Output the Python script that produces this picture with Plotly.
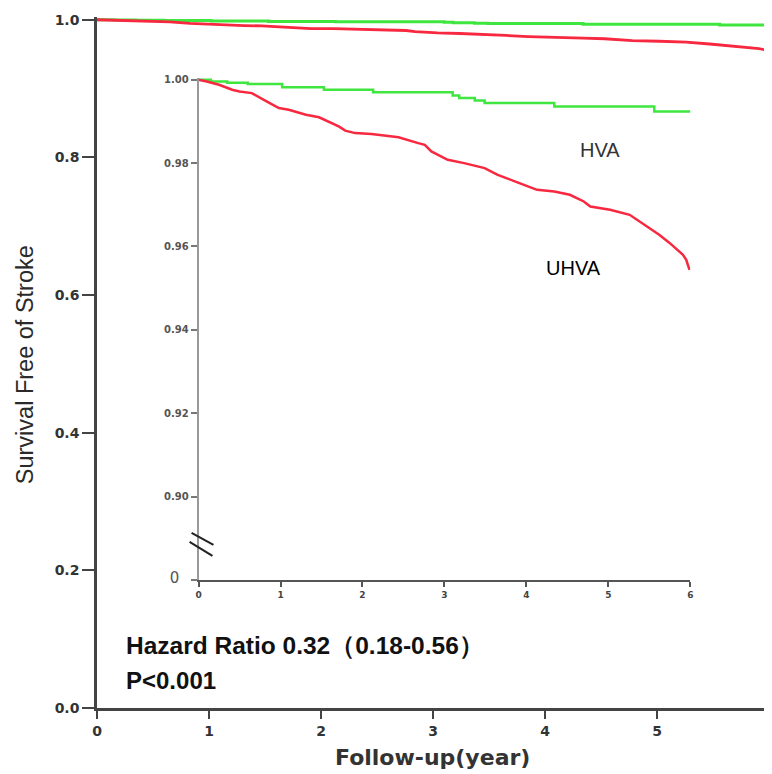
import plotly.graph_objects as go

# ---------------- data ----------------
year_ticks = [0, 1, 2, 3, 4, 5, 6]
main_y_ticks = [0.0, 0.2, 0.4, 0.6, 0.8, 1.0]
main_y_ticktext = ["0.0", "0.2", "0.4", "0.6", "0.8", "1.0"]
inset_y_ticks = [0.88, 0.90, 0.92, 0.94, 0.96, 0.98, 1.00]
inset_y_ticktext = ["0", "0.90", "0.92", "0.94", "0.96", "0.98", "1.00"]

hva_time = [0, 0.15, 0.35, 0.6, 1.02, 1.53, 2.13, 3.10, 3.18, 3.37, 3.49, 4.34, 5.56, 6.0]
hva_surv = [1.0, 0.9996, 0.9993, 0.9990, 0.9982, 0.9976, 0.9970, 0.9962, 0.9956, 0.9950,
            0.9944, 0.9936, 0.9924, 0.9924]

uhva_time = [0, 0.1, 0.25, 0.41, 0.5, 0.65, 0.83, 0.98, 1.10, 1.31, 1.47, 1.71, 1.79, 1.91,
             2.11, 2.44, 2.68, 2.76, 2.84, 3.04, 3.24, 3.49, 3.65, 3.85, 3.97, 4.13, 4.34,
             4.53, 4.70, 4.78, 5.02, 5.26, 5.47, 5.62, 5.75, 5.91, 5.95, 5.99]
uhva_surv = [1.0, 0.9996, 0.9988, 0.9976, 0.9972, 0.9968, 0.9948, 0.9932, 0.9928, 0.9916,
             0.9910, 0.9888, 0.9878, 0.9872, 0.9870, 0.9862, 0.9848, 0.9844, 0.9828, 0.9808,
             0.9800, 0.9788, 0.9772, 0.9756, 0.9748, 0.9736, 0.9732, 0.9724, 0.9708, 0.9696,
             0.9688, 0.9676, 0.9648, 0.9628, 0.9608, 0.9580, 0.9568, 0.9544]

# ---------------- geometry (screen pixels; page body has an 8px margin) ----------------
OFF = 8
W, H = 772 - OFF, 774 - OFF
SX0, SX1 = 97, 772      # screen x of main plot left/right edges
SY0, SY1 = 708, 20      # screen y of main 0.0 and 1.0
YTOP = 1.004
L = SX0 - OFF
R = W - (SX1 - OFF)
B = H - (SY0 - OFF)
T = (SY1 - OFF) - (YTOP - 1.0) * (SY0 - SY1)
PW, PH = W - L - R, H - B - T


def px(xs):
    return (xs - OFF - L) / PW


def py(ys):
    return (H - B - (ys - OFF)) / PH


GREEN = "#3fe63f"
RED = "#f7283f"

fig = go.Figure()

# main curves
fig.add_trace(go.Scatter(x=hva_time, y=hva_surv, mode="lines", line=dict(color=GREEN, width=3, shape="hv"),
                         xaxis="x", yaxis="y", showlegend=False, hoverinfo="skip"))
fig.add_trace(go.Scatter(x=uhva_time, y=uhva_surv, mode="lines", line=dict(color=RED, width=2.8),
                         xaxis="x", yaxis="y", showlegend=False, hoverinfo="skip"))
# inset curves
fig.add_trace(go.Scatter(x=hva_time, y=hva_surv, mode="lines", line=dict(color=GREEN, width=2.5, shape="hv"),
                         xaxis="x2", yaxis="y2", showlegend=False, hoverinfo="skip"))
fig.add_trace(go.Scatter(x=uhva_time, y=uhva_surv, mode="lines", line=dict(color=RED, width=2.5),
                         xaxis="x2", yaxis="y2", showlegend=False, hoverinfo="skip"))

main_tickfont = dict(family="DejaVu Sans", size=14, color="#333", weight="bold")
inset_tickfont = dict(family="DejaVu Sans", size=10, color="#555")

fig.update_layout(
    width=W, height=H,
    margin=dict(l=L, r=R, t=T, b=B, pad=0),
    paper_bgcolor="white", plot_bgcolor="white",
    showlegend=False,
    xaxis=dict(domain=[0, 1], range=[0, 6], tickvals=year_ticks, ticks="outside", ticklen=8,
               tickwidth=2, tickcolor="#444", showline=True, linecolor="#444", linewidth=2.5,
               showgrid=False, zeroline=False, tickfont=main_tickfont, anchor="y"),
    yaxis=dict(domain=[0, 1], range=[0, YTOP], tickvals=main_y_ticks, ticktext=main_y_ticktext,
               ticks="outside", ticklen=12, tickwidth=2, tickcolor="#444", showline=True,
               linecolor="#444", linewidth=2.5, showgrid=False, zeroline=False,
               tickfont=main_tickfont, anchor="x"),
    xaxis2=dict(domain=[px(199), px(693)], range=[0, 6], tickvals=year_ticks, ticks="outside",
                ticklen=5, tickwidth=1.5, tickcolor="#555", showline=True, linecolor="#555",
                linewidth=2, showgrid=False, zeroline=False,
                tickfont=dict(family="DejaVu Sans", size=9, color="#444", weight="bold"), anchor="y2"),
    yaxis2=dict(domain=[py(580), py(77.9)], range=[0.88, 1.0005], tickvals=inset_y_ticks,
                ticktext=["<span style='font-size:15px'>0&nbsp;&nbsp;</span>"]
                         + ["<b>%s</b>" % t for t in inset_y_ticktext[1:]],
                ticks="outside", ticklen=6, tickwidth=1.5, tickcolor="#777", showline=True,
                linecolor="#999", linewidth=1.5, showgrid=False, zeroline=False,
                tickfont=inset_tickfont, anchor="x2"),
)

ann_common = dict(xref="paper", yref="paper", showarrow=False)
fig.add_annotation(x=px(25), y=py(365), text="Survival Free of Stroke", textangle=-90,
                   xanchor="center", yanchor="middle",
                   font=dict(family="Liberation Sans", size=23.5, color="#2a2a2a"), **ann_common)
fig.add_annotation(x=px(434), y=py(757), text="<b>Follow-up(year)</b>", xanchor="center", yanchor="middle",
                   font=dict(family="DejaVu Sans", size=22, color="#333"), **ann_common)
fig.add_annotation(x=px(124), y=py(646), text="<b>Hazard Ratio 0.32（0.18-0.56）</b>", xanchor="left",
                   yanchor="middle", font=dict(family="Liberation Sans", size=24.5, color="#111"),
                   **ann_common)
fig.add_annotation(x=px(124), y=py(681), text="<b>P&lt;0.001</b>", xanchor="left", yanchor="middle",
                   font=dict(family="Liberation Sans", size=24, color="#111"),
                   **ann_common)
fig.add_annotation(x=px(602), y=py(150), text="HVA", xanchor="center", yanchor="middle",
                   font=dict(family="Liberation Sans", size=20, color="#333"), **ann_common)
fig.add_annotation(x=px(576), y=py(268), text="UHVA", xanchor="center", yanchor="middle",
                   font=dict(family="Liberation Sans", size=20, color="#000"), **ann_common)

# axis break marks on inset y axis
for (x0, y0, x1, y1) in [(192, 533, 214, 545), (190, 542, 213, 556)]:
    fig.add_shape(type="line", xref="paper", yref="paper", x0=px(x0), y0=py(y0), x1=px(x1), y1=py(y1),
                  line=dict(color="#222", width=2))

fig.write_html("out.html")
